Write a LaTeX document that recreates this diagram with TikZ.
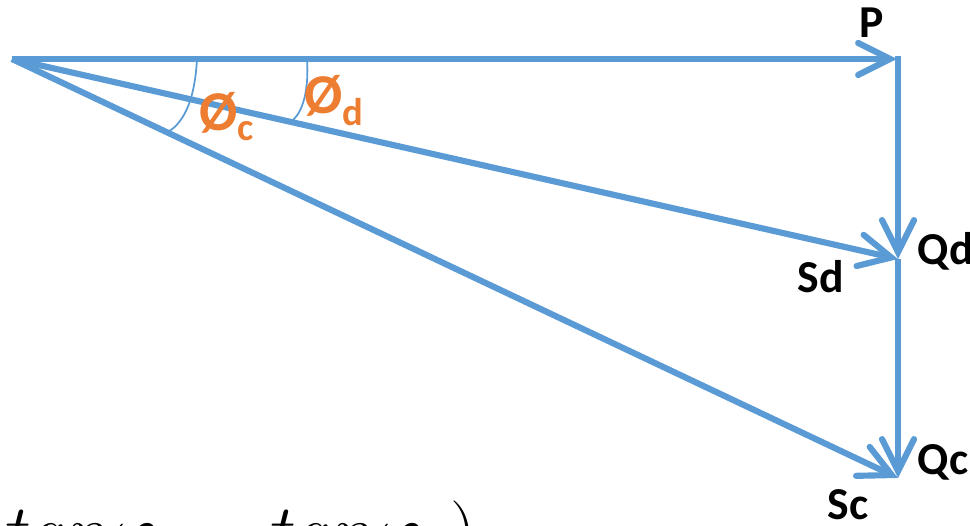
\documentclass[tikz,border=0pt]{standalone}
\usepackage{fontspec}
\setmainfont{Carlito}
\usepackage{xcolor}
\usetikzlibrary{arrows.meta}
\definecolor{vecblue}{HTML}{5B9BD5}
\definecolor{angleorange}{HTML}{ED7D31}

\begin{document}
\begin{tikzpicture}[
  vector/.style={draw=vecblue, line width=1.75pt,
                 -{Straight Barb[length=0.32cm, width=0.32cm, line cap=round]}},
  side/.style={draw=vecblue, line width=1.75pt},
  anglearc/.style={draw=vecblue, line width=0.5pt},
  vlabel/.style={font=\fontsize{13}{15}\selectfont\bfseries, anchor=base west, inner sep=0pt},
  anglelabel/.style={font=\fontsize{16}{18}\selectfont\bfseries, text=angleorange, anchor=base west, inner sep=0pt},
  formula/.style={font=\fontsize{21}{25}\selectfont, anchor=base west, inner sep=0pt},
]
  \clip (0,0) rectangle (9.70,5.26);

  \coordinate (O)  at (0.12, 4.67);
  \coordinate (P)  at (8.97, 4.67);
  \coordinate (Pc) at (8.98, 4.67);
  \coordinate (Qd) at (8.98, 2.67);
  \coordinate (Qc) at (8.98, 0.48);

  % power triangle
  \draw[vector] (O)  -- (P);
  \draw[vector] (Pc) -- (Qd);
  \draw[vector] (Qd) -- (Qc);
  \draw[vector] (O)  -- (Qd);
  \draw[vector] (O)  -- (Qc);
  \draw[side] (8.98, 4.70) -- (Pc);

  % angle marks
  \draw[anglearc] (1.97, 4.67) .. controls (1.95, 4.30) and (1.86, 4.05) .. (1.68, 3.94);
  \draw[anglearc] (3.07, 4.67) .. controls (3.09, 4.36) and (3.03, 4.15) .. (2.93, 4.06);

  \node[anglelabel] (phic) at (1.99, 3.95) {Ø\raisebox{-0.10cm}{\fontsize{11}{13}\selectfont c}};
  \node[anglelabel] (phid) at (3.04, 4.12) {Ø\raisebox{-0.12cm}{\fontsize{11}{13}\selectfont d}};

  \node[vlabel] (lblP)  at (8.59, 4.88) {P};
  \node[vlabel] (lblQd) at (9.17, 2.61) {Qd};
  \node[vlabel] (lblSd) at (7.97, 2.33) {Sd};
  \node[vlabel] (lblQc) at (9.17, 0.51) {Qc};
  \node[vlabel] (lblSc) at (8.27, 0.06) {Sc};

  \node[formula] (tanf) at (0.05, -0.30) {$tan\varphi_c - tan\varphi_d)$};
\end{tikzpicture}
\end{document}
